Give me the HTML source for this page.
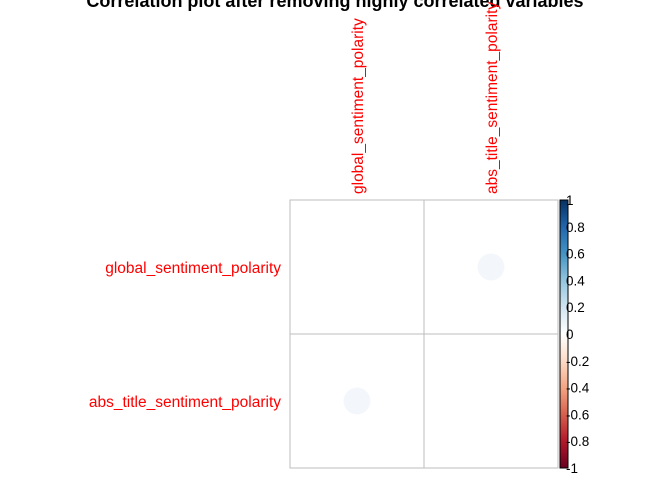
<!DOCTYPE html>
<html><head><meta charset="utf-8"><style>
body{margin:0;background:#fff;}
svg{display:block;font-family:"Liberation Sans",sans-serif;}
</style></head><body>
<svg width="672" height="480">
<text x="335" y="7" text-anchor="middle" font-size="18" font-weight="bold">Correlation plot after removing highly correlated variables</text>
<g id="grid"></g>
<g id="cbar"></g>
</svg>
<script>
const vars=["global_sentiment_polarity","abs_title_sentiment_polarity"];
const corr=[[null,0.05],[0.05,null]];
const cbTicks=["1","0.8","0.6","0.4","0.2","0","-0.2","-0.4","-0.6","-0.8","-1"];
const ns="http://www.w3.org/2000/svg";
const X0=290,Y0=200,S=134,n=vars.length;
const cell=i=>X0+i*S;
function col(v){
  const t=Math.abs(v);
  const pos=[[255,255,255],[209,229,240],[146,197,222],[67,147,195],[33,102,172],[5,48,97]];
  const neg=[[255,255,255],[253,219,199],[244,165,130],[214,96,77],[178,24,43],[103,0,31]];
  const p=v>=0?pos:neg;const f=t*5,i=Math.min(4,Math.floor(f)),r=f-i;
  const c=p[i].map((a,k)=>Math.round(a+(p[i+1][k]-a)*r));
  return `rgb(${c})`;
}
const g=document.getElementById('grid');
function mk(tag,attrs,parent){const e=document.createElementNS(ns,tag);for(const k in attrs)e.setAttribute(k,attrs[k]);parent.appendChild(e);return e;}
for(let i=0;i<n;i++)for(let j=0;j<n;j++){
  const r=mk('rect',{x:cell(j),y:Y0+i*S,width:S,height:S,fill:'none',stroke:'#bebebe'},g);
  
  
  const v=corr[i][j];
  if(v!==null){
    const c=mk('circle',{cx:cell(j)+S/2,cy:Y0+i*S+S/2,r:Math.max(1,Math.sqrt(Math.abs(v))*S/2*0.9),fill:'#f3f7fb'},g);
    
    
  }
}
vars.forEach((v,i)=>{
  const t=mk('text',{x:281,y:Y0+i*S+S/2+6,'text-anchor':'end','font-size':15.5,fill:'#ff0000'},g);t.textContent=v;
  
  
  const cx=cell(i)+S/2+6;
  const u=mk('text',{x:0,y:0,'text-anchor':'start','font-size':15.5,fill:'#ff0000',transform:`translate(${cx},194) rotate(-90)`},g);u.textContent=v;
  
  
});
const cb=document.getElementById('cbar');
const CX=560,CW=8,CT=200,CH=268;
const defs=mk('defs',{},cb);
const lg=mk('linearGradient',{id:'gr',x1:0,y1:0,x2:0,y2:1},defs);
for(let k=0;k<=20;k++){const v=1-k/10;mk('stop',{offset:(k/20),'stop-color':col(v)},lg);}
const bar=mk('rect',{x:CX,y:CT,width:CW,height:CH,fill:'url(#gr)',stroke:'#000','stroke-width':1},cb);


cbTicks.forEach((l,k)=>{
  const y=CT+k*CH/(cbTicks.length-1);
  const t=mk('text',{x:566,y:y+5,'font-size':13.5,fill:'#000'},cb);t.textContent=l;
  
  
});
</script>
</body></html>
